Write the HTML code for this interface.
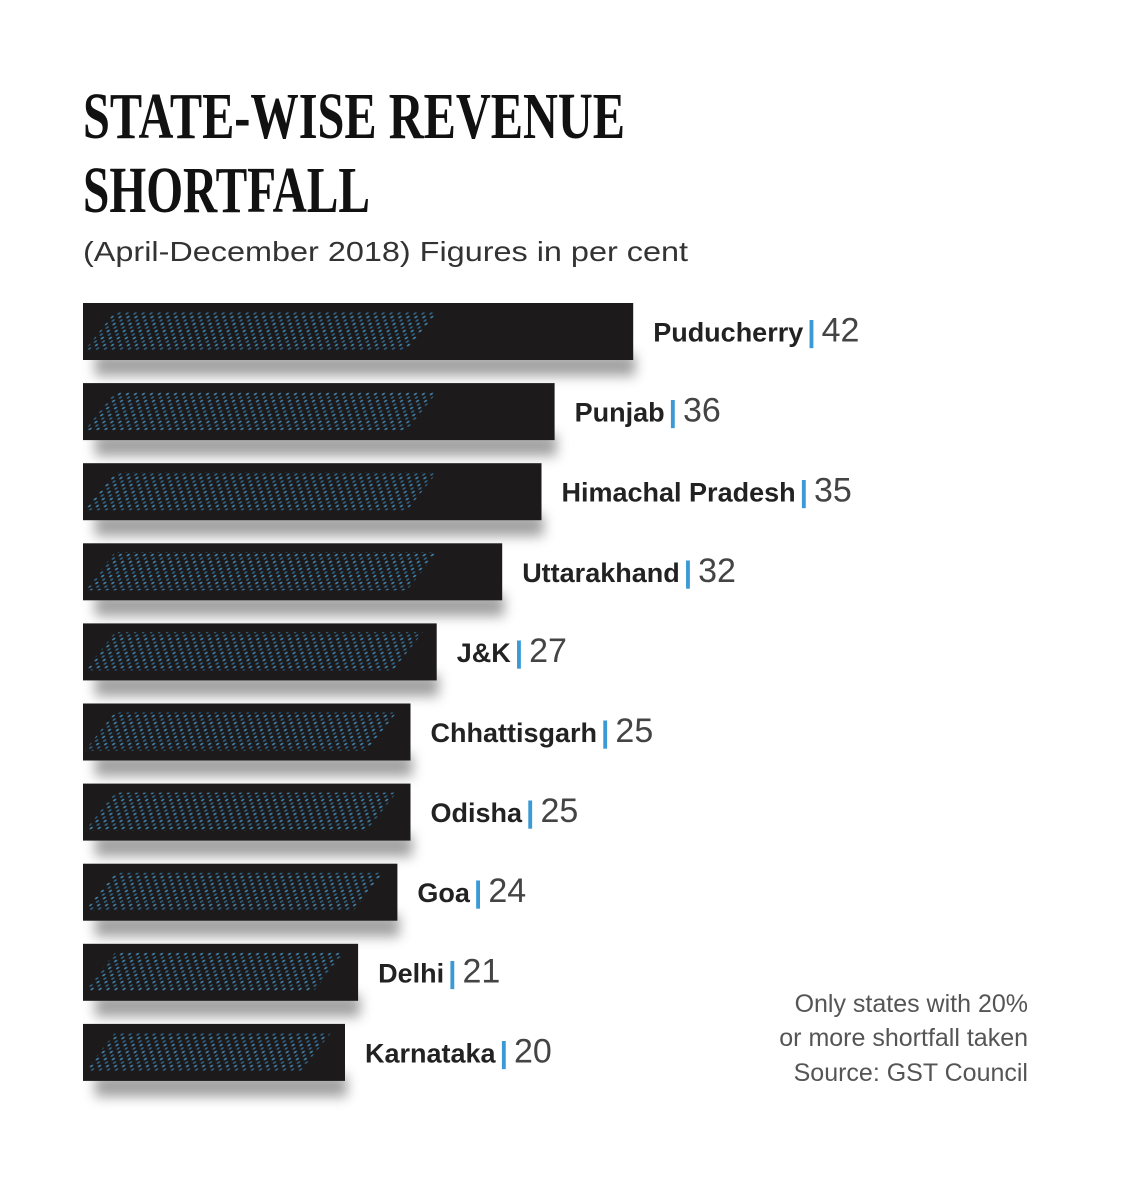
<!DOCTYPE html>
<html><head><meta charset="utf-8">
<style>
html,body{margin:0;padding:0;background:#fff;}
svg{display:block;}
</style></head>
<body>
<svg id="chart" width="1125" height="1194" viewBox="0 0 1125 1194" xmlns="http://www.w3.org/2000/svg">
  <defs>
    <pattern id="dots" width="8" height="7" patternUnits="userSpaceOnUse" patternTransform="skewX(-40)">
      <circle cx="2" cy="2" r="1.3" fill="#3f7fa6"/>
      <circle cx="6" cy="5.5" r="1.3" fill="#2f6488"/>
    </pattern>
    <filter id="shadow" x="-10%" y="-50%" width="120%" height="250%">
      <feGaussianBlur stdDeviation="6"/>
    </filter>
  </defs>
  <rect width="1125" height="1194" fill="#fff"/>
  <text x="83" y="138" font-family="Liberation Serif, serif" font-weight="bold" font-size="66" fill="#111" textLength="542" lengthAdjust="spacingAndGlyphs">STATE-WISE REVENUE</text>
  <text x="83" y="212" font-family="Liberation Serif, serif" font-weight="bold" font-size="66" fill="#111" textLength="287" lengthAdjust="spacingAndGlyphs">SHORTFALL</text>
  <text x="83" y="261" font-family="Liberation Sans, sans-serif" font-size="28" fill="#333" textLength="605" lengthAdjust="spacingAndGlyphs">(April-December 2018) Figures in per cent</text>
  <g id="bars"></g>
  <g font-family="Liberation Sans, sans-serif" font-size="25" fill="#555" text-anchor="end">
    <text x="1028" y="1012">Only states with 20%</text>
    <text x="1028" y="1046">or more shortfall taken</text>
    <text x="1028" y="1081">Source: GST Council</text>
  </g>
</svg>
<script>
const states = ["Puducherry","Punjab","Himachal Pradesh","Uttarakhand","J&K","Chhattisgarh","Odisha","Goa","Delhi","Karnataka"];
const values = [42,36,35,32,27,25,25,24,21,20];

const NS = "http://www.w3.org/2000/svg";
const x0 = 83, pxPerUnit = 13.1, top0 = 303, pitch = 80.1, barH = 57;
const xScale = v => x0 + v * pxPerUnit;
const yScale = i => top0 + i * pitch;
const g = document.getElementById('bars');

function mk(tag, attrs){ const e = document.createElementNS(NS, tag); for (const k in attrs) e.setAttribute(k, attrs[k]); return e; }

states.forEach((s, i) => {
  const y = yScale(i), xe = xScale(values[i]), w = xe - x0;
  const sh = mk('rect', {x: x0 + 12, y: y + barH - 6, width: w - 10, height: 22, fill: '#8a8a8a', filter: 'url(#shadow)', opacity: 0.8});
  
  
  g.appendChild(sh);
  const r = mk('rect', {x: x0, y: y, width: w, height: barH, fill: '#1c1a1b'});
  
  
  g.appendChild(r);
  const dw = Math.min(w - 16, 352);
  const t = y + 9, b = y + 47, sk = 30;
  const p = mk('polygon', {points: `${x0+2+sk},${t} ${x0+2+dw},${t} ${x0+2+dw-sk},${b} ${x0+2},${b}`, fill: 'url(#dots)'});
  
  
  g.appendChild(p);
  const txt = mk('text', {x: xe + 20, y: y + barH/2 + 10, 'font-family': 'Liberation Sans, sans-serif'});
  
  
  const n = mk('tspan', {'font-weight': 'bold', 'font-size': '27', fill: '#222'});
  n.textContent = s;
  const sep = mk('tspan', {'font-size': '30', fill: '#3b9ad6', 'font-weight': 'bold', dx: '4'});
  sep.textContent = '|';
  const v = mk('tspan', {'font-size': '34', fill: '#444', dx: '6'});
  v.textContent = values[i];
  txt.appendChild(n); txt.appendChild(sep); txt.appendChild(v);
  g.appendChild(txt);
});
</script>
</body></html>
